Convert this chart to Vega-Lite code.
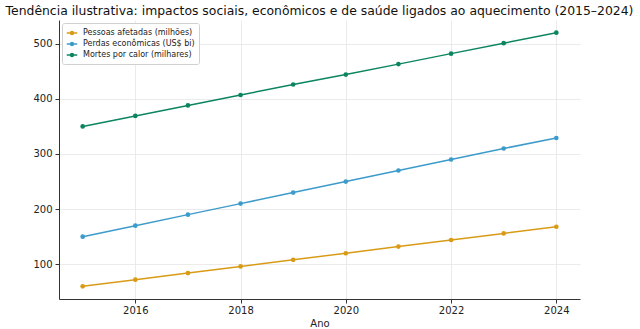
{
  "$schema": "https://vega.github.io/schema/vega-lite/v6.json",
  "autosize": {"type": "none"},
  "width": 521,
  "height": 279,
  "padding": {"left": 59, "top": 20, "right": 60, "bottom": 30},
  "background": "white",
  "config": {
    "font": "DejaVu Sans",
    "view": {"stroke": null},
    "axis": {
      "labelFont": "DejaVu Sans",
      "titleFont": "DejaVu Sans",
      "labelFontSize": 10,
      "labelColor": "#222",
      "titleFontSize": 10,
      "titleFontWeight": "normal",
      "titleColor": "#222",
      "domainColor": "#333",
      "tickColor": "#333",
      "tickSize": 4,
      "gridColor": "#e6e6e6",
      "gridWidth": 0.8
    }
  },
  "title": {
    "text": "Tendência ilustrativa: impactos sociais, econômicos e de saúde ligados ao aquecimento (2015–2024)",
    "fontSize": 12.4,
    "fontWeight": "normal",
    "font": "DejaVu Sans",
    "color": "#111",
    "anchor": "middle",
    "offset": 3
  },
  "data": {
    "values": [
      {"ano": 2015, "serie": "Pessoas afetadas (milhões)", "valor": 60},
      {"ano": 2016, "serie": "Pessoas afetadas (milhões)", "valor": 72},
      {"ano": 2017, "serie": "Pessoas afetadas (milhões)", "valor": 84},
      {"ano": 2018, "serie": "Pessoas afetadas (milhões)", "valor": 96},
      {"ano": 2019, "serie": "Pessoas afetadas (milhões)", "valor": 108},
      {"ano": 2020, "serie": "Pessoas afetadas (milhões)", "valor": 120},
      {"ano": 2021, "serie": "Pessoas afetadas (milhões)", "valor": 132},
      {"ano": 2022, "serie": "Pessoas afetadas (milhões)", "valor": 144},
      {"ano": 2023, "serie": "Pessoas afetadas (milhões)", "valor": 156},
      {"ano": 2024, "serie": "Pessoas afetadas (milhões)", "valor": 168},
      {"ano": 2015, "serie": "Perdas econômicas (US$ bi)", "valor": 150},
      {"ano": 2016, "serie": "Perdas econômicas (US$ bi)", "valor": 170},
      {"ano": 2017, "serie": "Perdas econômicas (US$ bi)", "valor": 190},
      {"ano": 2018, "serie": "Perdas econômicas (US$ bi)", "valor": 210},
      {"ano": 2019, "serie": "Perdas econômicas (US$ bi)", "valor": 230},
      {"ano": 2020, "serie": "Perdas econômicas (US$ bi)", "valor": 250},
      {"ano": 2021, "serie": "Perdas econômicas (US$ bi)", "valor": 270},
      {"ano": 2022, "serie": "Perdas econômicas (US$ bi)", "valor": 290},
      {"ano": 2023, "serie": "Perdas econômicas (US$ bi)", "valor": 310},
      {"ano": 2024, "serie": "Perdas econômicas (US$ bi)", "valor": 329},
      {"ano": 2015, "serie": "Mortes por calor (milhares)", "valor": 350},
      {"ano": 2016, "serie": "Mortes por calor (milhares)", "valor": 369},
      {"ano": 2017, "serie": "Mortes por calor (milhares)", "valor": 388},
      {"ano": 2018, "serie": "Mortes por calor (milhares)", "valor": 407},
      {"ano": 2019, "serie": "Mortes por calor (milhares)", "valor": 426},
      {"ano": 2020, "serie": "Mortes por calor (milhares)", "valor": 444},
      {"ano": 2021, "serie": "Mortes por calor (milhares)", "valor": 463},
      {"ano": 2022, "serie": "Mortes por calor (milhares)", "valor": 482},
      {"ano": 2023, "serie": "Mortes por calor (milhares)", "valor": 501},
      {"ano": 2024, "serie": "Mortes por calor (milhares)", "valor": 520}
    ]
  },
  "mark": {"type": "line", "strokeWidth": 1.5, "point": {"filled": true, "size": 22}},
  "encoding": {
    "x": {
      "field": "ano",
      "type": "quantitative",
      "title": "Ano",
      "scale": {"domain": [2014.55, 2024.45], "nice": false, "zero": false},
      "axis": {"values": [2016, 2018, 2020, 2022, 2024], "format": "d", "titlePadding": 3, "labelPadding": 2}
    },
    "y": {
      "field": "valor",
      "type": "quantitative",
      "title": null,
      "scale": {"domain": [37, 543], "nice": false, "zero": false},
      "axis": {"values": [100, 200, 300, 400, 500], "labelPadding": 3}
    },
    "color": {
      "field": "serie",
      "type": "nominal",
      "sort": null,
      "scale": {
        "domain": ["Pessoas afetadas (milhões)", "Perdas econômicas (US$ bi)", "Mortes por calor (milhares)"],
        "range": ["#D99B16", "#3C9BCB", "#0B8560"]
      },
      "legend": {
        "title": null,
        "orient": "none",
        "legendX": 3,
        "legendY": 3,
        "padding": 4,
        "fillColor": "white",
        "strokeColor": "#d0d0d0",
        "cornerRadius": 2,
        "labelFontSize": 8,
        "labelFont": "DejaVu Sans",
        "labelColor": "#222",
        "rowPadding": 0,
        "symbolSize": 110,
        "symbolStrokeWidth": 1.5,
        "symbolType": "M-1,0H1M-0.28,0A0.28,0.28,0,1,0,0.28,0A0.28,0.28,0,1,0,-0.28,0",
        "labelOffset": 5
      }
    }
  }
}
